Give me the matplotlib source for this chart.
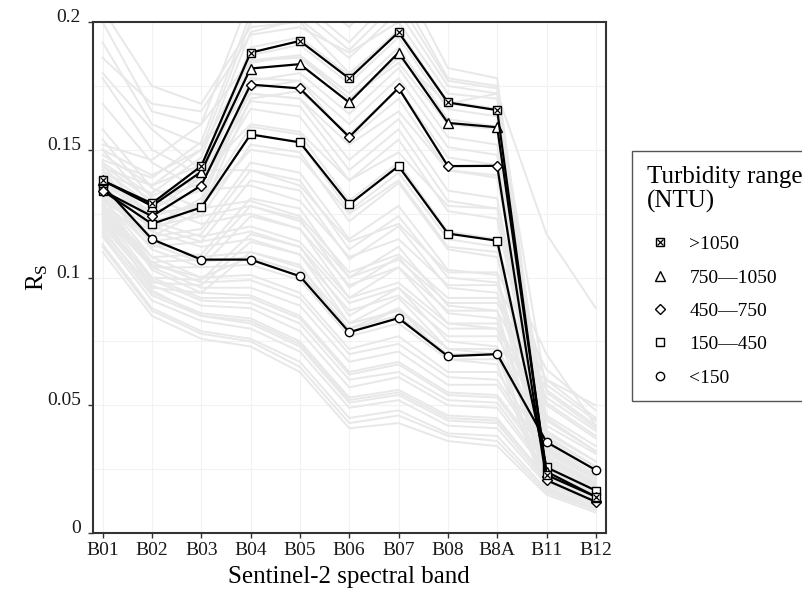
import matplotlib
matplotlib.use("Agg")
import matplotlib.pyplot as plt
from matplotlib.lines import Line2D
from matplotlib.legend_handler import HandlerTuple

plt.rcParams['font.family'] = ['Liberation Serif', 'DejaVu Serif']
plt.rcParams['mathtext.fontset'] = 'custom'
plt.rcParams['mathtext.rm'] = 'Liberation Serif'

bands = ["B01", "B02", "B03", "B04", "B05", "B06", "B07", "B08", "B8A", "B11", "B12"]

range_labels = [">1050", "750\u20141050", "450\u2014750", "150\u2014450", "<150"]
mean_gt1050 = [0.138, 0.129, 0.1436, 0.188, 0.1926, 0.1779, 0.196, 0.1685, 0.1655, 0.0227, 0.0142]
mean_750_1050 = [0.138, 0.128, 0.1414, 0.1818, 0.1835, 0.1685, 0.188, 0.1605, 0.1588, 0.024, 0.0142]
mean_450_750 = [0.134, 0.124, 0.136, 0.1755, 0.174, 0.155, 0.1742, 0.1436, 0.1437, 0.0207, 0.0122]
mean_150_450 = [0.134, 0.121, 0.1274, 0.156, 0.1529, 0.1286, 0.1436, 0.1172, 0.1144, 0.0257, 0.0166]
mean_lt150 = [0.136, 0.115, 0.107, 0.107, 0.1005, 0.0786, 0.0841, 0.0692, 0.070, 0.0356, 0.0246]

# individual sample spectra (grey background)
gray_spectra = [
    [0.110, 0.085, 0.076, 0.073, 0.063, 0.041, 0.043, 0.036, 0.034, 0.015, 0.008],
    [0.112, 0.087, 0.078, 0.075, 0.065, 0.043, 0.046, 0.038, 0.036, 0.016, 0.009],
    [0.113, 0.088, 0.079, 0.076, 0.067, 0.045, 0.048, 0.039, 0.038, 0.017, 0.010],
    [0.116, 0.091, 0.083, 0.080, 0.071, 0.049, 0.052, 0.042, 0.041, 0.019, 0.011],
    [0.117, 0.093, 0.085, 0.082, 0.073, 0.051, 0.054, 0.044, 0.043, 0.020, 0.012],
    [0.119, 0.094, 0.086, 0.084, 0.075, 0.053, 0.056, 0.046, 0.045, 0.021, 0.013],
    [0.122, 0.097, 0.089, 0.088, 0.079, 0.057, 0.061, 0.050, 0.049, 0.024, 0.015],
    [0.123, 0.099, 0.091, 0.090, 0.082, 0.060, 0.063, 0.052, 0.051, 0.025, 0.016],
    [0.125, 0.095, 0.085, 0.083, 0.074, 0.052, 0.055, 0.045, 0.044, 0.022, 0.014],
    [0.125, 0.100, 0.092, 0.092, 0.084, 0.062, 0.066, 0.054, 0.053, 0.027, 0.017],
    [0.128, 0.104, 0.096, 0.096, 0.089, 0.067, 0.071, 0.058, 0.058, 0.030, 0.020],
    [0.129, 0.106, 0.098, 0.099, 0.092, 0.070, 0.074, 0.061, 0.060, 0.031, 0.021],
    [0.131, 0.108, 0.100, 0.101, 0.094, 0.072, 0.077, 0.063, 0.063, 0.033, 0.022],
    [0.132, 0.103, 0.094, 0.093, 0.085, 0.063, 0.067, 0.055, 0.054, 0.029, 0.019],
    [0.134, 0.111, 0.104, 0.105, 0.099, 0.077, 0.082, 0.068, 0.068, 0.036, 0.025],
    [0.135, 0.113, 0.106, 0.108, 0.102, 0.080, 0.085, 0.070, 0.070, 0.037, 0.026],
    [0.137, 0.114, 0.108, 0.110, 0.104, 0.082, 0.087, 0.072, 0.072, 0.039, 0.028],
    [0.140, 0.118, 0.112, 0.115, 0.109, 0.087, 0.093, 0.077, 0.077, 0.042, 0.031],
    [0.142, 0.120, 0.114, 0.118, 0.112, 0.090, 0.096, 0.080, 0.080, 0.044, 0.032],
    [0.144, 0.122, 0.116, 0.120, 0.114, 0.092, 0.098, 0.082, 0.082, 0.046, 0.034],
    [0.150, 0.128, 0.121, 0.125, 0.119, 0.097, 0.104, 0.087, 0.087, 0.051, 0.038],
    [0.154, 0.131, 0.124, 0.128, 0.122, 0.100, 0.107, 0.090, 0.090, 0.053, 0.040],
    [0.158, 0.135, 0.127, 0.130, 0.124, 0.102, 0.109, 0.092, 0.092, 0.056, 0.042],
    [0.168, 0.145, 0.134, 0.136, 0.130, 0.108, 0.115, 0.097, 0.097, 0.060, 0.045],
    [0.180, 0.158, 0.142, 0.142, 0.136, 0.114, 0.121, 0.102, 0.102, 0.064, 0.048],
    [0.118, 0.096, 0.094, 0.110, 0.105, 0.078, 0.088, 0.068, 0.066, 0.016, 0.009],
    [0.120, 0.098, 0.097, 0.114, 0.109, 0.082, 0.092, 0.072, 0.070, 0.017, 0.010],
    [0.121, 0.100, 0.099, 0.117, 0.112, 0.085, 0.096, 0.075, 0.073, 0.018, 0.010],
    [0.124, 0.104, 0.104, 0.124, 0.119, 0.092, 0.104, 0.082, 0.080, 0.020, 0.012],
    [0.126, 0.106, 0.107, 0.128, 0.123, 0.096, 0.108, 0.086, 0.084, 0.021, 0.013],
    [0.127, 0.108, 0.109, 0.131, 0.127, 0.100, 0.112, 0.089, 0.087, 0.022, 0.013],
    [0.130, 0.112, 0.114, 0.138, 0.134, 0.107, 0.120, 0.096, 0.094, 0.024, 0.015],
    [0.132, 0.114, 0.117, 0.142, 0.138, 0.111, 0.124, 0.100, 0.098, 0.025, 0.016],
    [0.133, 0.116, 0.119, 0.145, 0.141, 0.115, 0.128, 0.103, 0.101, 0.026, 0.016],
    [0.136, 0.120, 0.124, 0.152, 0.149, 0.122, 0.137, 0.111, 0.108, 0.028, 0.018],
    [0.138, 0.122, 0.127, 0.156, 0.153, 0.126, 0.141, 0.115, 0.112, 0.029, 0.019],
    [0.139, 0.124, 0.129, 0.159, 0.156, 0.130, 0.145, 0.118, 0.115, 0.030, 0.019],
    [0.142, 0.128, 0.134, 0.166, 0.163, 0.138, 0.154, 0.126, 0.123, 0.032, 0.021],
    [0.144, 0.130, 0.137, 0.169, 0.167, 0.142, 0.158, 0.130, 0.127, 0.034, 0.022],
    [0.145, 0.132, 0.139, 0.172, 0.170, 0.146, 0.162, 0.134, 0.131, 0.035, 0.023],
    [0.148, 0.136, 0.144, 0.178, 0.177, 0.154, 0.170, 0.142, 0.139, 0.038, 0.026],
    [0.128, 0.116, 0.126, 0.170, 0.173, 0.156, 0.174, 0.147, 0.144, 0.016, 0.009],
    [0.130, 0.118, 0.129, 0.174, 0.177, 0.160, 0.178, 0.151, 0.148, 0.017, 0.010],
    [0.131, 0.120, 0.131, 0.177, 0.180, 0.164, 0.182, 0.155, 0.152, 0.018, 0.010],
    [0.134, 0.124, 0.136, 0.184, 0.187, 0.172, 0.190, 0.162, 0.159, 0.020, 0.011],
    [0.136, 0.126, 0.139, 0.187, 0.191, 0.176, 0.194, 0.166, 0.163, 0.021, 0.012],
    [0.137, 0.128, 0.141, 0.190, 0.194, 0.179, 0.197, 0.169, 0.166, 0.022, 0.013],
    [0.141, 0.133, 0.147, 0.196, 0.201, 0.186, 0.204, 0.175, 0.172, 0.025, 0.015],
    [0.143, 0.136, 0.150, 0.200, 0.205, 0.189, 0.208, 0.177, 0.174, 0.027, 0.017],
    [0.146, 0.139, 0.153, 0.203, 0.208, 0.192, 0.212, 0.178, 0.175, 0.029, 0.018],
    [0.152, 0.146, 0.160, 0.210, 0.214, 0.198, 0.219, 0.182, 0.178, 0.033, 0.021],
    [0.200, 0.165, 0.160, 0.185, 0.186, 0.170, 0.184, 0.160, 0.158, 0.045, 0.032],
    [0.192, 0.160, 0.152, 0.172, 0.170, 0.152, 0.165, 0.142, 0.140, 0.050, 0.037],
    [0.186, 0.168, 0.165, 0.195, 0.198, 0.188, 0.200, 0.172, 0.170, 0.055, 0.041],
    [0.178, 0.150, 0.140, 0.160, 0.157, 0.138, 0.149, 0.128, 0.127, 0.058, 0.044],
    [0.205, 0.175, 0.168, 0.198, 0.200, 0.180, 0.196, 0.168, 0.166, 0.040, 0.028],
    [0.150, 0.140, 0.150, 0.185, 0.187, 0.170, 0.186, 0.168, 0.172, 0.117, 0.088],
    [0.140, 0.125, 0.128, 0.150, 0.147, 0.125, 0.138, 0.112, 0.110, 0.070, 0.042],
    [0.125, 0.105, 0.100, 0.108, 0.102, 0.080, 0.088, 0.072, 0.072, 0.060, 0.050],
]

y_ticks = [0, 0.05, 0.1, 0.15, 0.2]
y_ticklabels = ["0", "0.05", "0.1", "0.15", "0.2"]

fig = plt.figure(figsize=(8.03, 5.95), dpi=100)
ax = fig.add_axes([92.7 / 803, 1 - 533 / 595, (605.7 - 92.7) / 803, (533 - 22) / 595])

x = list(range(len(bands)))

# faint grid
for xi in x:
    ax.axvline(xi, color='#f2f2f2', lw=0.8, zorder=0)
for yv in [0.025, 0.05, 0.075, 0.1, 0.125, 0.15, 0.175]:
    ax.axhline(yv, color='#f2f2f2', lw=0.8, zorder=0)

for s in gray_spectra:
    ax.plot(x, s, color='#e8e8e8', lw=1.4, zorder=1)

line_kw = dict(color='black', lw=1.6, markerfacecolor='white', markeredgecolor='black',
               markeredgewidth=1.0, zorder=3)
series = [mean_lt150, mean_150_450, mean_450_750, mean_750_1050, mean_gt1050]
markers = ['o', 's', 'D', '^', 's']
sizes = [6.0, 5.5, 5.0, 6.5, 5.5]
for vals, m, ms in zip(series, markers, sizes):
    ax.plot(x, vals, marker=m, markersize=ms, **line_kw)
ax.plot(x, mean_gt1050, linestyle='none', marker='x', markersize=4.0,
        markeredgecolor='black', markeredgewidth=0.9, zorder=4)

ax.set_xlim(-0.2, 10.2)
ax.set_ylim(0, 0.2)
ax.set_xticks(x)
ax.set_xticklabels(bands)
ax.set_yticks(y_ticks)
ax.set_yticklabels(y_ticklabels)
for lab in ax.get_yticklabels():
    lab.set_verticalalignment('baseline')

ax.tick_params(axis='both', direction='out', length=3.6, width=1.0, color='#333333',
               labelsize=14, labelcolor='#1a1a1a')
ax.tick_params(axis='y', pad=4.8)
ax.tick_params(axis='x', pad=3.0)
for sp in ax.spines.values():
    sp.set_color('#333333')
    sp.set_linewidth(1.5)

ax.set_xlabel("Sentinel-2 spectral band", fontsize=18, labelpad=5)
ax.set_ylabel(r"R$_\mathregular{S}$", fontsize=18, labelpad=-2)

# legend
mk = dict(color='black', markerfacecolor='white', markeredgecolor='black', markeredgewidth=1.0,
          linestyle='none')
h_gt = (Line2D([], [], marker='s', markersize=5.5, **mk),
        Line2D([], [], marker='x', markersize=4.0, color='black', markeredgewidth=0.9, linestyle='none'))
h_750 = Line2D([], [], marker='^', markersize=6.5, **mk)
h_450 = Line2D([], [], marker='D', markersize=5.0, **mk)
h_150 = Line2D([], [], marker='s', markersize=5.5, **mk)
h_lt = Line2D([], [], marker='o', markersize=6.0, **mk)
leg = fig.legend([h_gt, h_750, h_450, h_150, h_lt], range_labels,
                 handler_map={tuple: HandlerTuple(ndivide=1)},
                 loc='upper left', bbox_to_anchor=(632 / 803, 1 - 151 / 595),
                 bbox_transform=fig.transFigure, fontsize=14,
                 title="Turbidity range\n(NTU)", title_fontsize=18,
                 frameon=True, fancybox=False, edgecolor='#555555', framealpha=1,
                 borderpad=0.75, handlelength=1.4, handletextpad=0.8, labelspacing=0.81,
                 borderaxespad=0)
leg.get_frame().set_linewidth(1.0)
leg._legend_box.align = 'left'
leg._legend_box.sep = 0.86 * 14 + 4.0
leg.get_title().set_linespacing(1.15)

fig.savefig("out.png", dpi=100)
